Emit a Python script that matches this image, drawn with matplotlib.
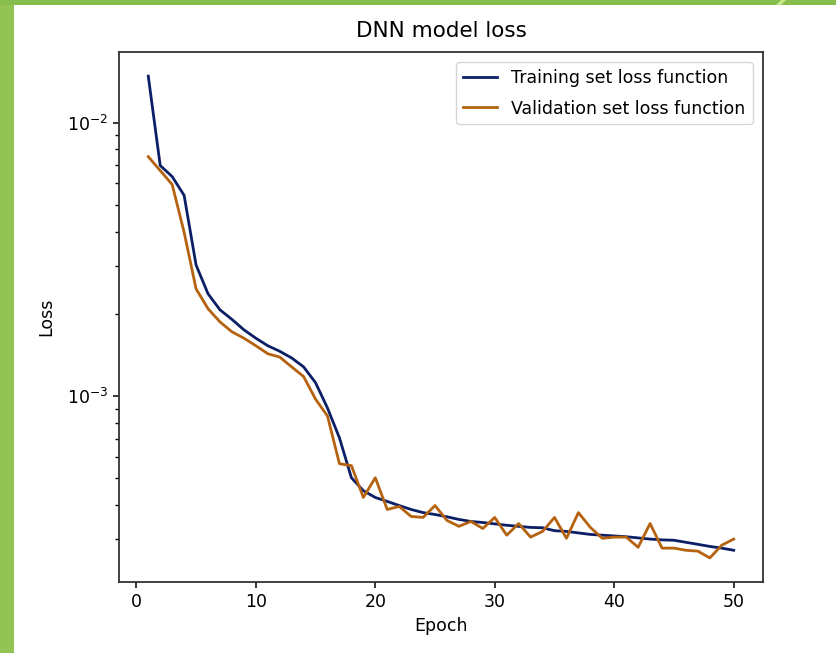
import matplotlib
matplotlib.use("Agg")
import matplotlib.pyplot as plt
from matplotlib.patches import Rectangle, Polygon

epochs = list(range(1, 51))
train_loss = [
    1.483e-2, 6.98e-3, 6.36e-3, 5.43e-3, 3.02e-3, 2.37e-3, 2.07e-3, 1.91e-3, 1.75e-3, 1.63e-3,
    1.53e-3, 1.46e-3, 1.38e-3, 1.28e-3, 1.12e-3, 9.05e-4, 7.04e-4, 5.03e-4, 4.51e-4, 4.26e-4,
    4.12e-4, 3.98e-4, 3.85e-4, 3.75e-4, 3.69e-4, 3.62e-4, 3.54e-4, 3.48e-4, 3.45e-4, 3.41e-4,
    3.37e-4, 3.34e-4, 3.31e-4, 3.30e-4, 3.22e-4, 3.20e-4, 3.16e-4, 3.12e-4, 3.10e-4, 3.08e-4,
    3.06e-4, 3.03e-4, 3.00e-4, 2.98e-4, 2.97e-4, 2.92e-4, 2.87e-4, 2.82e-4, 2.78e-4, 2.73e-4,
]
val_loss = [
    7.52e-3, 6.69e-3, 5.95e-3, 3.98e-3, 2.47e-3, 2.09e-3, 1.87e-3, 1.72e-3, 1.63e-3, 1.53e-3,
    1.43e-3, 1.39e-3, 1.28e-3, 1.18e-3, 9.75e-4, 8.46e-4, 5.66e-4, 5.57e-4, 4.26e-4, 5.03e-4,
    3.85e-4, 3.95e-4, 3.63e-4, 3.60e-4, 3.98e-4, 3.51e-4, 3.34e-4, 3.48e-4, 3.28e-4, 3.60e-4,
    3.10e-4, 3.42e-4, 3.05e-4, 3.20e-4, 3.60e-4, 3.02e-4, 3.75e-4, 3.31e-4, 3.02e-4, 3.05e-4,
    3.05e-4, 2.80e-4, 3.42e-4, 2.78e-4, 2.78e-4, 2.73e-4, 2.71e-4, 2.56e-4, 2.85e-4, 3.00e-4,
]
series_labels = ["Training set loss function", "Validation set loss function"]
title = "DNN model loss"
xlabel = "Epoch"
ylabel = "Loss"

W, H = 837, 653
fig = plt.figure(figsize=(W / 100, H / 100), dpi=100)
fig.patch.set_facecolor("white")

# decorative green slide border
fig.add_artist(Rectangle((0, 0), 14 / W, 1, transform=fig.transFigure,
                         facecolor="#92c353", edgecolor="none", zorder=0))
fig.add_artist(Rectangle((0, 1 - 5 / H), 1, 5 / H, transform=fig.transFigure,
                         facecolor="#86bd4c", edgecolor="none", zorder=0))
fig.add_artist(Polygon([(776 / W, 1 - 5 / H), (781 / W, 1 - 5 / H), (786 / W, 1), (781 / W, 1)],
                       closed=True, transform=fig.transFigure,
                       facecolor="#c8e68a", edgecolor="none", zorder=1))

ax = fig.add_axes([119 / W, 1 - 582 / H, (763 - 119) / W, (582 - 52) / H])
lw = 2.0
ax.plot(epochs, train_loss, color="#0b1f66", lw=lw, label=series_labels[0])
ax.plot(epochs, val_loss, color="#b5620f", lw=lw, label=series_labels[1])
ax.set_yscale("log")

fs = 12.5
ax.set_title(title, fontsize=15.5, pad=11)
ax.set_xlabel(xlabel, fontsize=fs)
ax.set_ylabel(ylabel, fontsize=fs, labelpad=8)
ax.set_xticks([0, 10, 20, 30, 40, 50])
ax.tick_params(axis="both", which="major", labelsize=fs, length=4.5, width=1.1)
ax.tick_params(axis="both", which="minor", length=2.6, width=1.0)
for s in ax.spines.values():
    s.set_linewidth(1.3)
    s.set_color("#333333")

leg = ax.legend(loc="upper right", fontsize=fs, frameon=True, fancybox=True,
                handlelength=2.0, borderaxespad=0.6, labelspacing=0.7)
leg.get_frame().set_edgecolor("#cccccc")

fig.savefig("out.png", dpi=100)
